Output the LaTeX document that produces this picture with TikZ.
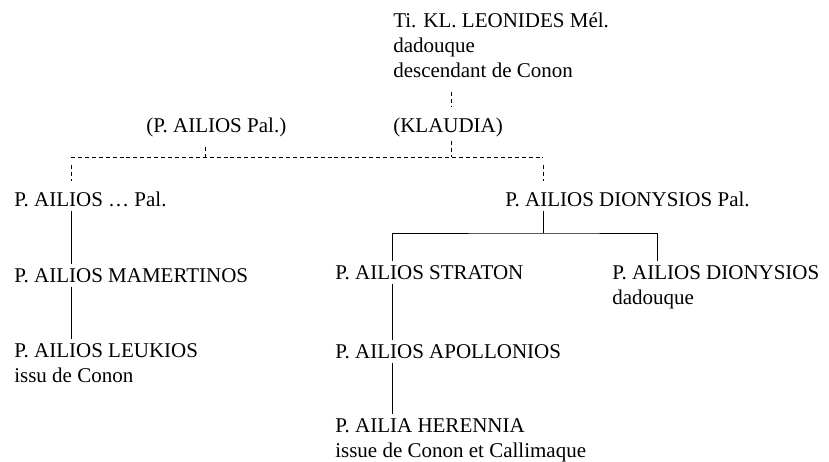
\documentclass[tikz,border=0pt]{standalone}
\usepackage{fontspec}
\setmainfont{Liberation Serif}
\usepackage{tikz}
\usetikzlibrary{calc}

\begin{document}
\begin{tikzpicture}[
  x=0.75pt, y=-0.75pt,
  person/.style={anchor=base west, inner xsep=0pt, inner ysep=3pt, align=left,
    font=\fontsize{15.75}{18.75}\selectfont},
  kin/.style={line width=0.55pt, dash pattern=on 3pt off 2.2pt},
  line/.style={line width=0.55pt},
]
  \useasboundingbox (0,0) rectangle (829,461);

  % multi-line nodes sit on the baseline of their last line
  \node[person] (leonides) at (393,77) {Ti. KL. LEONIDES Mél.\\dadouque\\descendant de Conon};
  \node[person] (klaudia) at (393,132) {(KLAUDIA)};
  \node[person] (ailiosPal) at (146,132) {(P. AILIOS Pal.)};

  \node[person] (ailiosA) at (14,206) {P. AILIOS … Pal.};
  \node[person] (dionysiosPal) at (505,206) {P. AILIOS DIONYSIOS Pal.};

  \node[person] (mamertinos) at (14,282) {P. AILIOS MAMERTINOS};
  \node[person] (leukios) at (14,382) {P. AILIOS LEUKIOS\\issu de Conon};

  \node[person] (straton) at (335,279) {P. AILIOS STRATON};
  \node[person] (dionysios) at (612,304) {P. AILIOS DIONYSIOS\\dadouque};
  \node[person] (apollonios) at (335,358) {P. AILIOS APOLLONIOS};
  \node[person] (herennia) at (335,457) {P. AILIA HERENNIA\\issue de Conon et Callimaque};

  \coordinate (kx) at (451,0);
  \coordinate (px) at (205,0);
  \coordinate (marriage) at (451,157);
  \coordinate (jleft) at (71,157);
  \coordinate (jright) at (543,157);
  \coordinate (fork) at (543,233);
  \coordinate (sx) at (392,0);
  \coordinate (dx) at (657,0);

  % alliances (dashed)
  \draw[kin, shorten <=8pt, shorten >=5pt] (leonides.south -| kx) -- (klaudia.north -| kx);
  \draw[kin] (klaudia.south -| kx) -- (marriage);
  \draw[kin, shorten <=5pt] (ailiosPal.south -| px) -- (px |- marriage);
  \draw[kin] (jleft) -- (jright);
  \draw[kin, shorten <=6pt, shorten >=5pt] (jleft) -- (ailiosA.north -| jleft);
  \draw[kin, shorten <=6pt, shorten >=5pt] (jright) -- (dionysiosPal.north -| jright);

  % descent
  \draw[line] (ailiosA.south -| jleft) -- (mamertinos.north -| jleft);
  \draw[line] (mamertinos.south -| jleft) -- (leukios.north -| jleft);
  \draw[line] (dionysiosPal.south -| fork) -- (fork);
  \draw[line] (straton.north -| sx) |- (fork) -| (dionysios.north -| dx);
  \draw[line] (straton.south -| sx) -- (apollonios.north -| sx);
  \draw[line] (apollonios.south -| sx) -- (herennia.north -| sx);
\end{tikzpicture}
\end{document}
